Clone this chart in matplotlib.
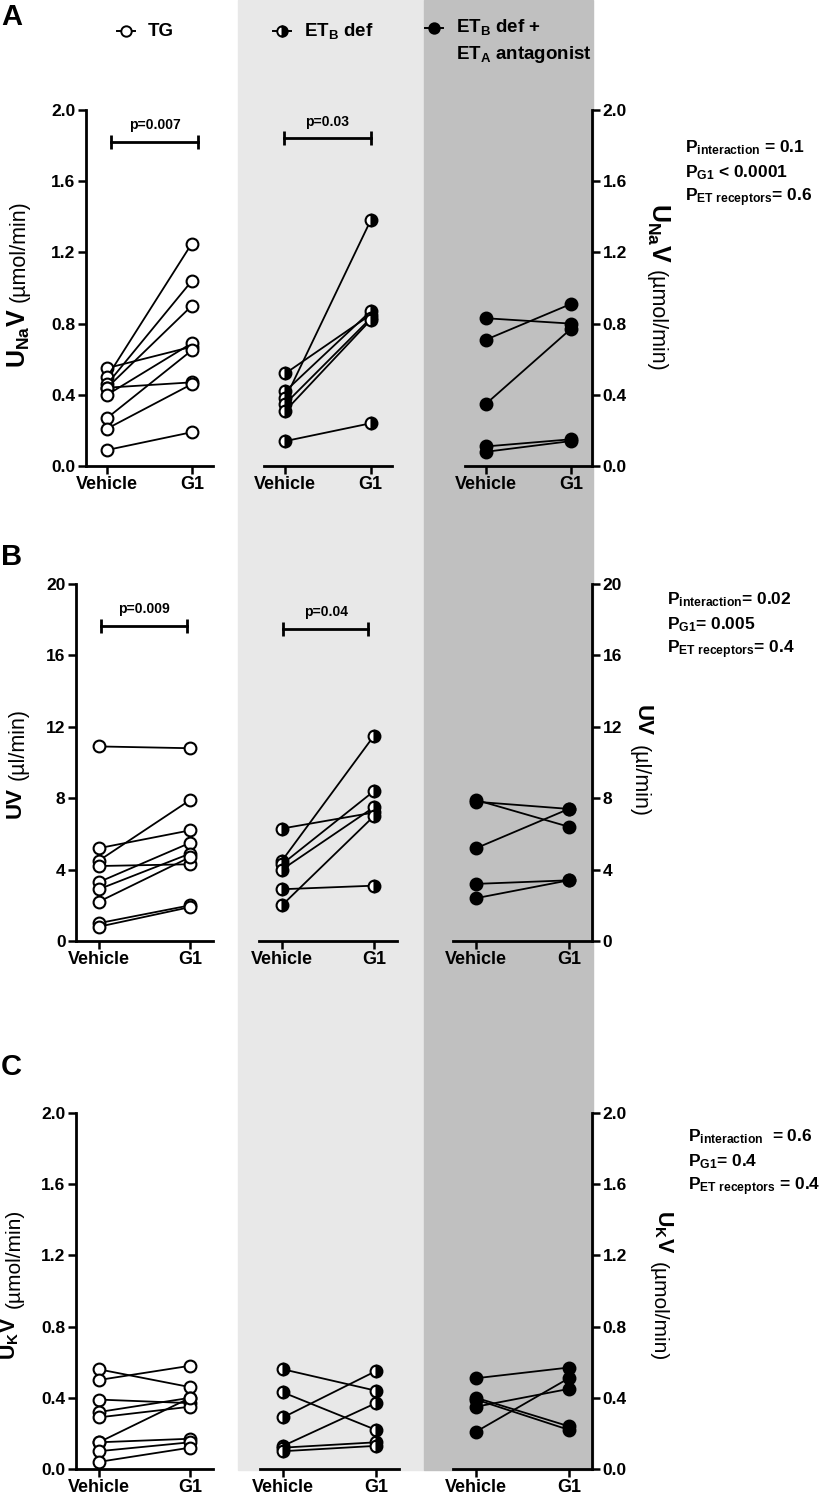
import matplotlib
matplotlib.use("Agg")
import matplotlib.pyplot as plt
from matplotlib.lines import Line2D
from matplotlib.patches import Rectangle

plt.rcParams['font.family'] = ['Liberation Sans', 'DejaVu Sans']
plt.rcParams['mathtext.fontset'] = 'custom'
plt.rcParams['mathtext.rm'] = 'Liberation Sans'
plt.rcParams['mathtext.bf'] = 'Liberation Sans:bold'
plt.rcParams['mathtext.it'] = 'Liberation Sans:italic'

# ---- data (Vehicle -> G1 pairs) ----
x_labels = ['Vehicle', 'G1']
group_names = ['TG', 'ET$_{\\mathbf{B}}$ def', 'ET$_{\\mathbf{B}}$ def +\nET$_{\\mathbf{A}}$ antagonist']

una_tg_veh = [0.55, 0.50, 0.46, 0.44, 0.44, 0.40, 0.27, 0.21, 0.09]
una_tg_g1 = [0.67, 1.25, 1.04, 0.90, 0.47, 0.69, 0.65, 0.46, 0.19]
una_etb_veh = [0.52, 0.42, 0.38, 0.35, 0.31, 0.14]
una_etb_g1 = [0.85, 0.87, 1.38, 0.83, 0.82, 0.24]
una_eta_veh = [0.83, 0.71, 0.35, 0.11, 0.08]
una_eta_g1 = [0.80, 0.91, 0.77, 0.15, 0.14]

uv_tg_veh = [10.9, 5.2, 4.5, 4.2, 3.3, 2.9, 2.2, 1.0, 0.8]
uv_tg_g1 = [10.8, 6.2, 7.9, 4.3, 5.5, 4.9, 4.7, 2.0, 1.9]
uv_etb_veh = [6.3, 4.5, 4.3, 4.0, 2.9, 2.0]
uv_etb_g1 = [7.2, 11.5, 8.4, 7.5, 3.1, 7.0]
uv_eta_veh = [7.9, 7.8, 5.2, 3.2, 2.4]
uv_eta_g1 = [6.4, 7.4, 7.4, 3.4, 3.4]

uk_tg_veh = [0.56, 0.50, 0.39, 0.32, 0.29, 0.15, 0.15, 0.10, 0.04]
uk_tg_g1 = [0.46, 0.58, 0.37, 0.40, 0.35, 0.40, 0.17, 0.15, 0.12]
uk_etb_veh = [0.56, 0.43, 0.29, 0.13, 0.12, 0.10]
uk_etb_g1 = [0.44, 0.22, 0.55, 0.37, 0.15, 0.13]
uk_eta_veh = [0.51, 0.40, 0.39, 0.35, 0.21]
uk_eta_g1 = [0.57, 0.24, 0.22, 0.45, 0.51]

una_ticks = [0, 0.4, 0.8, 1.2, 1.6, 2.0]
uv_ticks = [0, 4, 8, 12, 16, 20]

W, H = 825, 1496
fig = plt.figure(figsize=(W / 100, H / 100), dpi=100)


def fx(x):
    return x / W


def fy(y):
    return 1 - y / H


def add_ax(x0, x1, ytop, ybot):
    ax = fig.add_axes([fx(x0), fy(ybot), fx(x1 - x0), (ybot - ytop) / H])
    ax.set_facecolor('none')
    return ax


# shaded group backgrounds
fig.add_artist(Rectangle((fx(238), fy(1470)), fx(424 - 238), 1470 / H,
                         transform=fig.transFigure, color='#e8e8e8', zorder=-10))
fig.add_artist(Rectangle((fx(424), fy(1470)), fx(593 - 424), 1470 / H,
                         transform=fig.transFigure, color='#c0c0c0', zorder=-10))

styles = [
    dict(marker='o', mfc='white', mec='black'),
    dict(marker='o', mfc='black', mec='black', fillstyle='right', markerfacecoloralt='white'),
    dict(marker='o', mfc='black', mec='black'),
]

panels = [
    dict(letter='A', ltop=3, ytop=110, ybot=466, xs=[(86, 213), (264, 392), (465, 592)],
         data=[(una_tg_veh, una_tg_g1), (una_etb_veh, una_etb_g1), (una_eta_veh, una_eta_g1)],
         ticks=una_ticks, fmt='{:.1f}',
         sig=[(0.05, 1.07, 1.82, 'p=0.007'), (-0.02, 1.0, 1.84, 'p=0.03')],
         stats=(685, 148, ['P$_{\\mathbf{interaction}}$ = 0.1', 'P$_{\\mathbf{G1}}$ < 0.0001',
                           'P$_{\\mathbf{ET\\ receptors}}$= 0.6'])),
    dict(letter='B', ltop=543, ytop=584, ybot=941, xs=[(76, 213), (259, 397), (453, 592)],
         data=[(uv_tg_veh, uv_tg_g1), (uv_etb_veh, uv_etb_g1), (uv_eta_veh, uv_eta_g1)],
         ticks=uv_ticks, fmt='{:.0f}',
         sig=[(0.02, 0.96, 17.65, 'p=0.009'), (0.01, 0.94, 17.5, 'p=0.04')],
         stats=(667, 600, ['P$_{\\mathbf{interaction}}$= 0.02', 'P$_{\\mathbf{G1}}$= 0.005',
                           'P$_{\\mathbf{ET\\ receptors}}$= 0.4'])),
    dict(letter='C', ltop=1053, ytop=1113, ybot=1469, xs=[(76, 213), (260, 399), (453, 592)],
         data=[(uk_tg_veh, uk_tg_g1), (uk_etb_veh, uk_etb_g1), (uk_eta_veh, uk_eta_g1)],
         ticks=una_ticks, fmt='{:.1f}',
         sig=[],
         stats=(688, 1137, ['P$_{\\mathbf{interaction}}$  = 0.6', 'P$_{\\mathbf{G1}}$= 0.4',
                            'P$_{\\mathbf{ET\\ receptors}}$ = 0.4'])),
]

for p in panels:
    for i, (x0, x1) in enumerate(p['xs']):
        ax = add_ax(x0, x1, p['ytop'], p['ybot'])
        veh, g1 = p['data'][i]
        for a, b in zip(veh, g1):
            ax.plot([0, 1], [a, b], color='black', lw=1.3, ms=8.5, mew=1.5,
                    clip_on=False, **styles[i])
        ax.set_xlim(-0.25, 1.25)
        ax.set_ylim(p['ticks'][0], p['ticks'][-1])
        ax.set_xticks([0, 1])
        ax.set_xticklabels(x_labels, fontsize=13, fontweight='bold')
        ax.set_yticks(p['ticks'])
        ax.set_yticklabels([p['fmt'].format(t) for t in p['ticks']], fontsize=12.5, fontweight='bold')
        for s in ax.spines.values():
            s.set_linewidth(2.0)
        ax.spines['top'].set_visible(False)
        ax.tick_params(direction='out', length=5.5, width=1.8, pad=2)
        if i == 0:
            ax.spines['right'].set_visible(False)
        elif i == 1:
            ax.spines['right'].set_visible(False)
            ax.spines['left'].set_visible(False)
            ax.tick_params(axis='y', left=False, labelleft=False)
        else:
            ax.spines['left'].set_visible(False)
            ax.yaxis.tick_right()
        if i < len(p['sig']):
            s0, s1, sy, lab = p['sig'][i]
            ax.plot([s0, s1], [sy, sy], color='black', lw=2.0, marker='|', ms=10, mew=2.0,
                    clip_on=False)
            ax.text((s0 + s1) / 2, sy + (p['ticks'][-1]) * 0.028, lab, ha='center', va='bottom',
                    fontsize=10, fontweight='bold')

    fig.text(fx(1), fy(p['ltop']), p['letter'], fontsize=21, fontweight='bold', va='top')
    sx, sy, lines = p['stats']
    for k, line in enumerate(lines):
        fig.text(fx(sx), fy(sy + 25 * k), line, fontsize=12.5, fontweight='bold', va='center')

# y labels: bold quantity + plain unit, left (rotation 90) and right (rotation -90)
ylabels = [
    # text, bold size, unit size, left bold, left unit, right bold, right unit
    ('U$_{\\mathbf{Na}}$V', 18, 15.5, (19, 368), (19, 302), (658, 203), (656, 270)),
    ('UV', 16, 15.5, (15, 818), (18, 780), (642, 705), (639, 745)),
    ('U$_{\\mathbf{K}}$V', 15.5, 15, (10, 1360), (14, 1308), (663, 1210), (658, 1262)),
]
units = ['(µmol/min)', '(µl/min)', '(µmol/min)']
for (bold, bsize, usize, lb, lu, rb, ru), unit in zip(ylabels, units):
    fig.text(fx(lb[0]), fy(lb[1]), bold, rotation=90, ha='center', va='bottom',
             fontsize=bsize, fontweight='bold')
    fig.text(fx(lu[0]), fy(lu[1]), unit, rotation=90, ha='center', va='bottom', fontsize=usize)
    fig.text(fx(rb[0]), fy(rb[1]), bold, rotation=-90, ha='center', va='top',
             fontsize=bsize, fontweight='bold')
    fig.text(fx(ru[0]), fy(ru[1]), unit, rotation=-90, ha='center', va='top', fontsize=usize)

# group key at the top: short line with marker + label
key_pos = [(117, 31), (273, 31), (425, 28)]
for (kx, ky), st, name in zip(key_pos, styles, group_names):
    fig.add_artist(Line2D([fx(kx), fx(kx + 9), fx(kx + 18)], [fy(ky)] * 3,
                          transform=fig.transFigure, color='black', lw=1.4, ms=7.5, mew=1.4,
                          markevery=[1], **st))
    if '\n' in name:
        fig.text(fx(kx + 31), fy(ky - 11), name, fontsize=13.5, fontweight='bold',
                 va='top', linespacing=1.45)
    else:
        fig.text(fx(kx + 31), fy(ky), name, fontsize=13.5, fontweight='bold', va='center')

fig.savefig('out.png', dpi=100)
